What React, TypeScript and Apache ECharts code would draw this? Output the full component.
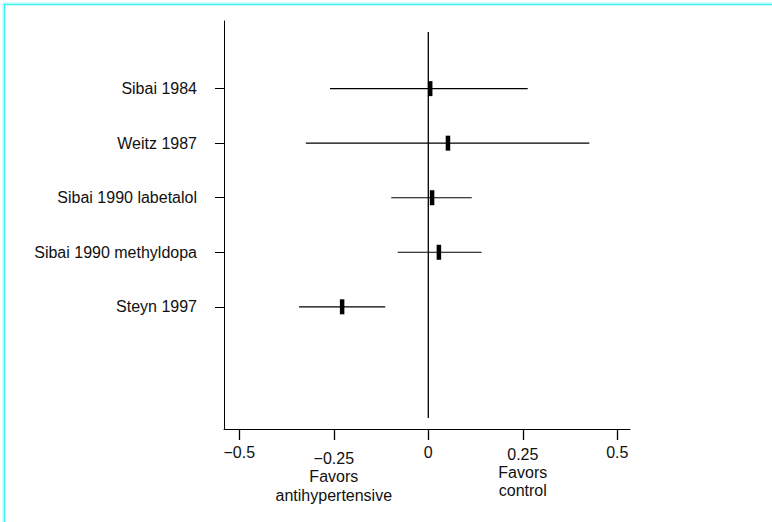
import React, { useEffect, useRef } from "react";
import * as echarts from "echarts";

const studies = [
  "Sibai 1984",
  "Weitz 1987",
  "Sibai 1990 labetalol",
  "Sibai 1990 methyldopa",
  "Steyn 1997",
];
const estimates = [0.005, 0.052, 0.01, 0.028, -0.228];
const lowerCI = [-0.26, -0.324, -0.098, -0.081, -0.342];
const upperCI = [0.263, 0.426, 0.115, 0.141, -0.114];
const rowPositions = [1, 2, 3, 4, 5];

const xTickValues = [-0.5, -0.25, 0, 0.25, 0.5];
const xTickLabels = ["\u22120.5", "\u22120.25", "0", "0.25", "0.5"];
const plainLabelValues = [-0.5, 0, 0.5];
const leftNote = ["Favors", "antihypertensive"];
const rightNote = ["Favors", "control"];

const zeroLineX = [0, 0];
const zeroLineY = [-0.04, 7.04];

const FONT = "'Liberation Sans', Arial, Helvetica, sans-serif";
const X_MIN = -0.5405;
const X_MAX = 0.5336;

function labelFor(v: number) {
  const i = xTickValues.indexOf(v);
  return i >= 0 ? xTickLabels[i] : "";
}

export default function App() {
  const ref = useRef<HTMLDivElement>(null);
  useEffect(() => {
    document.body.style.margin = "0";
    const chart = echarts.init(ref.current!, null, { renderer: "svg" });
    const baseX = {
      type: "value" as const,
      min: X_MIN,
      max: X_MAX,
      position: "bottom" as const,
      splitLine: { show: false },
    };
    chart.setOption({
      animation: false,
      backgroundColor: "#ffffff",
      grid: { left: 224, right: 142, top: 21, bottom: 93 },
      xAxis: [
        {
          ...baseX,
          axisLine: { show: true, onZero: false, lineStyle: { color: "#000", width: 1 } },
          axisTick: {
            show: true,
            length: 11,
            customValues: xTickValues,
            lineStyle: { color: "#000", width: 1.3 },
          },
          axisLabel: {
            show: true,
            customValues: plainLabelValues,
            margin: 15,
            color: "#111",
            fontFamily: FONT,
            fontSize: 16,
            formatter: (v: number) => labelFor(v),
          },
        },
        {
          ...baseX,
          axisLine: { show: false },
          axisTick: { show: false },
          axisLabel: {
            show: true,
            customValues: [0.25],
            margin: 16,
            color: "#111",
            fontFamily: FONT,
            fontSize: 16,
            lineHeight: 18,
            formatter: (v: number) => [labelFor(v), ...rightNote].join("\n"),
          },
        },
        {
          ...baseX,
          axisLine: { show: false },
          axisTick: { show: false },
          axisLabel: {
            show: true,
            customValues: [-0.25],
            margin: 20,
            color: "#111",
            fontFamily: FONT,
            fontSize: 16,
            lineHeight: 18.4,
            formatter: (v: number) => [labelFor(v), ...leftNote].join("\n"),
          },
        },
      ],
      yAxis: {
        type: "value",
        inverse: true,
        min: -0.24,
        max: 7.24,
        splitLine: { show: false },
        axisLine: { show: true, onZero: false, lineStyle: { color: "#000", width: 1 } },
        axisTick: {
          show: true,
          length: 9,
          customValues: rowPositions,
          lineStyle: { color: "#000", width: 1 },
        },
        axisLabel: {
          show: true,
          customValues: rowPositions,
          margin: 27,
          color: "#111",
          fontFamily: FONT,
          fontSize: 16,
          formatter: (v: number) => studies[rowPositions.indexOf(v)] ?? "",
        },
      },
      graphic: [
        {
          type: "rect",
          shape: { x: 3, y: 3, width: 800, height: 560 },
          style: { fill: "none", stroke: "#b0fafa", lineWidth: 1 },
          silent: true,
        },
        {
          type: "rect",
          shape: { x: 4.5, y: 4.5, width: 800, height: 560 },
          style: { fill: "none", stroke: "#3ff0f0", lineWidth: 1.5 },
          silent: true,
        },
      ],
      series: [
        {
          type: "line",
          data: zeroLineX.map((x, i) => [x, zeroLineY[i]]),
          symbol: "none",
          lineStyle: { color: "#000", width: 1.3 },
          silent: true,
        },
        {
          type: "custom",
          data: studies.map((_, i) => [lowerCI[i], upperCI[i], rowPositions[i]]),
          renderItem: (params: any, api: any) => {
            const p1 = api.coord([api.value(0), api.value(2)]);
            const p2 = api.coord([api.value(1), api.value(2)]);
            return {
              type: "line",
              shape: { x1: p1[0], y1: p1[1], x2: p2[0], y2: p2[1] },
              style: { stroke: "#000", lineWidth: 1.2 },
            };
          },
          silent: true,
        },
        {
          type: "scatter",
          data: studies.map((_, i) => [estimates[i], rowPositions[i]]),
          symbol: "rect",
          symbolSize: [4.5, 15],
          itemStyle: { color: "#000", opacity: 1 },
          silent: true,
        },
      ],
    });
    return () => chart.dispose();
  }, []);
  return (
    <div
      ref={ref}
      style={{ position: "fixed", left: 0, top: 0, width: 772, height: 522 }}
    />
  );
}
